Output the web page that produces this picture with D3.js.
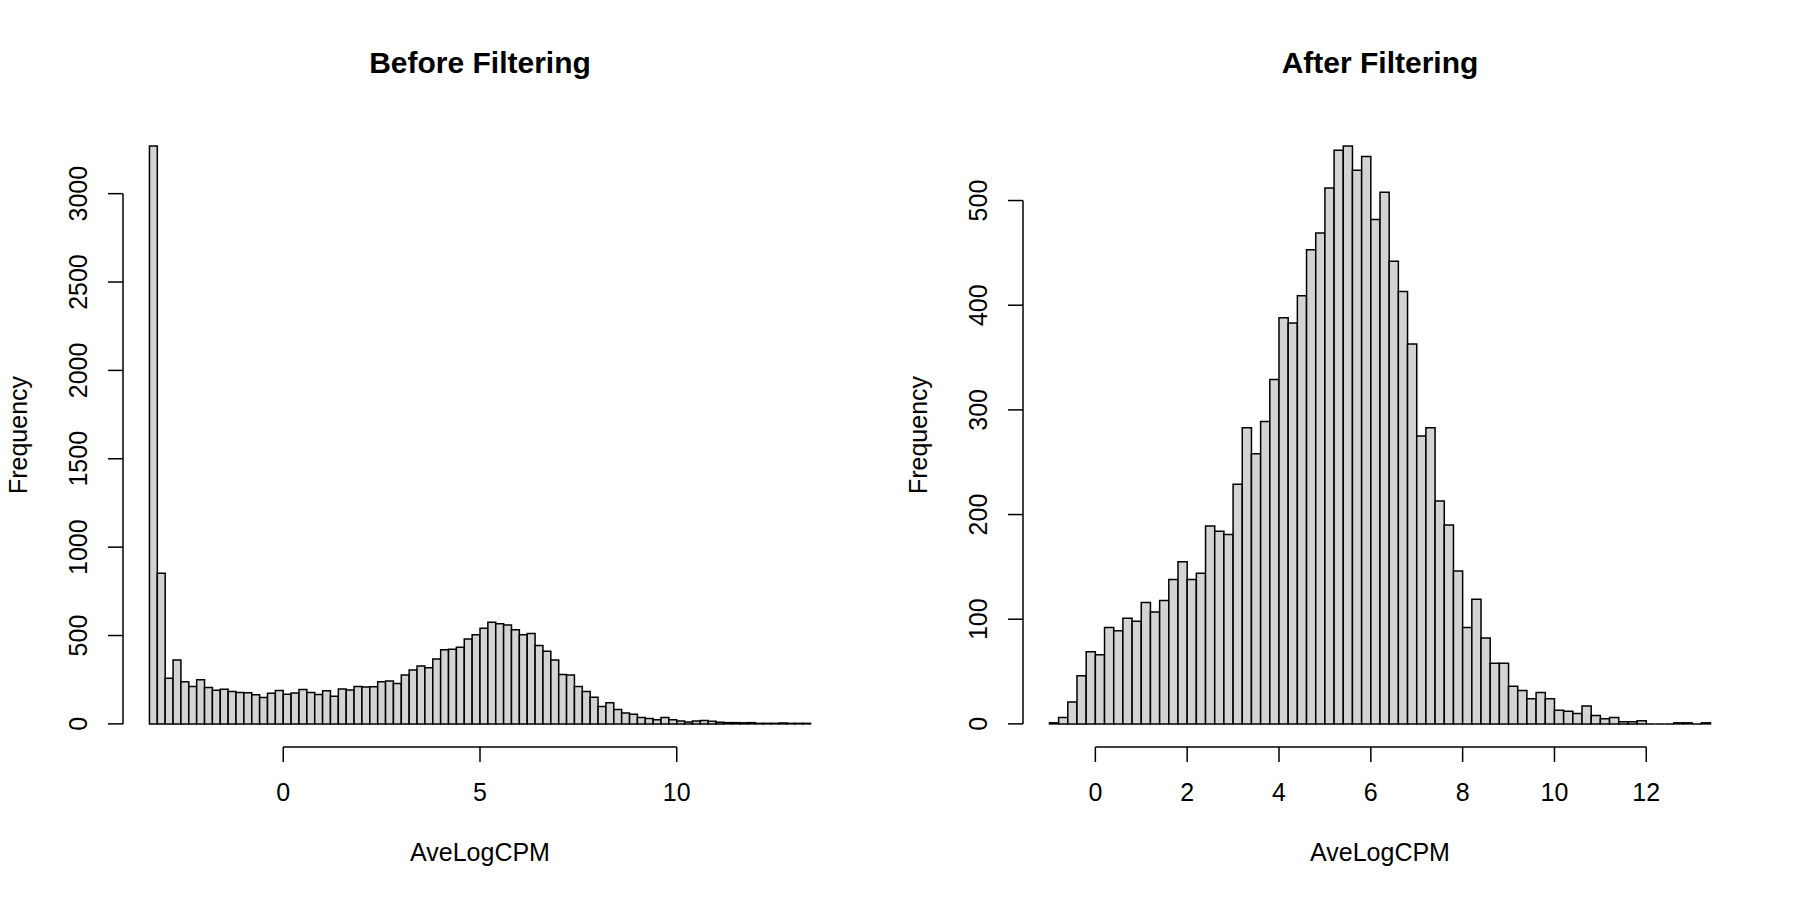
<!DOCTYPE html>
<html>
<head>
<meta charset="utf-8">
<script src="https://cdn.jsdelivr.net/npm/d3@7"></script>
<style>
  html, body { margin: 0; padding: 0; background: #ffffff; }
  svg { display: block; }
  text { font-family: "Liberation Sans", Arial, Helvetica, sans-serif; fill: #000; }
</style>
</head>
<body>
<svg id="chart" width="1800" height="900"></svg>
<script>
// ---- data ----
const binWidth = 0.2;

const beforeTitle = "Before Filtering";
const beforeStart = -3.4;
const beforeCounts = [
  3269, 853, 258, 361, 238, 211, 250, 206, 190, 196,
  183, 177, 176, 165, 150, 173, 189, 167, 175, 195,
  178, 166, 188, 156, 198, 192, 211, 209, 210, 239,
  243, 228, 277, 305, 328, 318, 367, 420, 422, 433,
  480, 505, 541, 575, 567, 560, 533, 505, 511, 443,
  411, 362, 279, 277, 211, 183, 151, 99, 119, 81,
  62, 55, 36, 30, 24, 36, 23, 17, 11, 17,
  19, 15, 9, 7, 7, 6, 7, 3, 3, 3,
  5, 3, 3, 3
];
const beforeXTicks = [0, 5, 10];
const beforeYTicks = [0, 500, 1000, 1500, 2000, 2500, 3000];

const afterTitle = "After Filtering";
const afterStart = -1.0;
const afterCounts = [
  1, 6, 21, 46, 69, 66, 92, 89, 101, 98,
  116, 107, 118, 138, 155, 138, 144, 189, 184, 181,
  229, 283, 258, 289, 329, 388, 383, 409, 453, 469,
  512, 548, 552, 529, 542, 482, 508, 442, 413, 363,
  275, 283, 213, 190, 146, 92, 119, 82, 58, 58,
  36, 32, 24, 30, 24, 13, 12, 10, 17, 8,
  5, 6, 2, 2, 3, 0, 0, 0, 1, 1,
  0, 1
];
const afterXTicks = [0, 2, 4, 6, 8, 10, 12];
const afterYTicks = [0, 100, 200, 300, 400, 500];

const xLabel = "AveLogCPM";
const yLabel = "Frequency";

// ---- drawing ----
const svg = d3.select("#chart");
svg.append("rect").attr("width", 1800).attr("height", 900).attr("fill", "#ffffff");

const plotLeft = 123, plotRight = 837, plotTop = 123, plotBottom = 747;
const lw = 1.5, tick = 15, fs = 25;

function drawHist(offsetX, title, start, counts, xTicks, yTicks) {
  const g = svg.append("g").attr("transform", `translate(${offsetX},0)`);
  const bins = counts.map((c, i) => ({ x0: start + i * binWidth, x1: start + (i + 1) * binWidth, n: c }));
  const xmin = bins[0].x0, xmax = bins[bins.length - 1].x1;
  const span = xmax - xmin;
  const ymax = d3.max(counts);
  const x = d3.scaleLinear().domain([xmin - 0.04 * span, xmax + 0.04 * span]).range([plotLeft, plotRight]);
  const y = d3.scaleLinear().domain([-0.04 * ymax, 1.04 * ymax]).range([plotBottom, plotTop]);

  // bars (as closed paths so that empty bins still show their outline)
  g.selectAll("path.bar").data(bins).enter().append("path")
    .attr("class", "bar")
    .attr("d", d => {
      const p = d3.path();
      p.moveTo(x(d.x0), y(0));
      p.lineTo(x(d.x0), y(d.n));
      p.lineTo(x(d.x1), y(d.n));
      p.lineTo(x(d.x1), y(0));
      p.closePath();
      return p.toString();
    })
    .attr("fill", "#d3d3d3")
    .attr("stroke", "#000")
    .attr("stroke-width", lw)
    .attr("stroke-linejoin", "miter");

  // x axis
  const xa = g.append("g");
  xa.append("line")
    .attr("x1", x(xTicks[0])).attr("x2", x(xTicks[xTicks.length - 1]))
    .attr("y1", plotBottom).attr("y2", plotBottom)
    .attr("stroke", "#000").attr("stroke-width", lw);
  xa.selectAll("line.t").data(xTicks).enter().append("line")
    .attr("class", "t")
    .attr("x1", d => x(d)).attr("x2", d => x(d))
    .attr("y1", plotBottom).attr("y2", plotBottom + tick)
    .attr("stroke", "#000").attr("stroke-width", lw);
  xa.selectAll("text").data(xTicks).enter().append("text")
    .attr("x", d => x(d)).attr("y", 801)
    .attr("text-anchor", "middle").attr("font-size", fs)
    .text(d => d);

  // y axis
  const ya = g.append("g");
  ya.append("line")
    .attr("x1", plotLeft).attr("x2", plotLeft)
    .attr("y1", y(yTicks[0])).attr("y2", y(yTicks[yTicks.length - 1]))
    .attr("stroke", "#000").attr("stroke-width", lw);
  ya.selectAll("line.t").data(yTicks).enter().append("line")
    .attr("class", "t")
    .attr("x1", plotLeft - tick).attr("x2", plotLeft)
    .attr("y1", d => y(d)).attr("y2", d => y(d))
    .attr("stroke", "#000").attr("stroke-width", lw);
  ya.selectAll("text").data(yTicks).enter().append("text")
    .attr("transform", d => `translate(87,${y(d)}) rotate(-90)`)
    .attr("text-anchor", "middle").attr("font-size", fs)
    .text(d => d);

  // labels
  g.append("text")
    .attr("x", (plotLeft + plotRight) / 2).attr("y", 861)
    .attr("text-anchor", "middle").attr("font-size", fs)
    .text(xLabel);
  g.append("text")
    .attr("transform", `translate(27,${(plotTop + plotBottom) / 2}) rotate(-90)`)
    .attr("text-anchor", "middle").attr("font-size", fs)
    .text(yLabel);
  g.append("text")
    .attr("x", (plotLeft + plotRight) / 2).attr("y", 72.5)
    .attr("text-anchor", "middle").attr("font-size", 30).attr("font-weight", "bold")
    .text(title);
}

drawHist(0, beforeTitle, beforeStart, beforeCounts, beforeXTicks, beforeYTicks);
drawHist(900, afterTitle, afterStart, afterCounts, afterXTicks, afterYTicks);
</script>
</body>
</html>
